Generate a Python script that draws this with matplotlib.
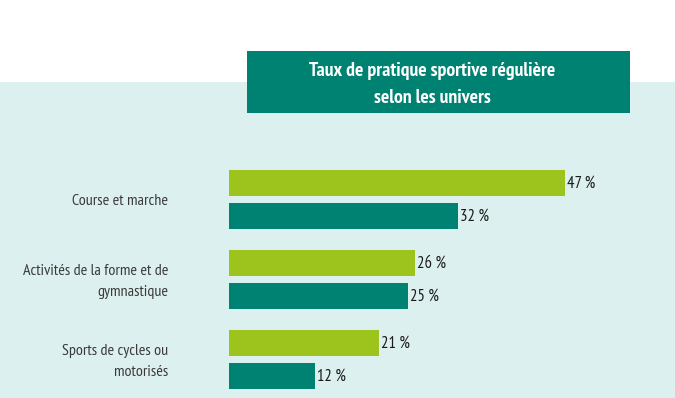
import matplotlib
matplotlib.use("Agg")
import matplotlib.pyplot as plt
from matplotlib import font_manager
from matplotlib.patches import Rectangle

categories = ["Course et marche", "Activités de la forme et de\ngymnastique", "Sports de cycles ou\nmotorisés"]
series_a = [47, 26, 21]   # green
series_b = [32, 25, 12]   # teal
value_fmt = "{} %"
title = "Taux de pratique sportive régulière\nselon les univers"

names = sorted({f.name for f in font_manager.fontManager.ttflist})
prefs = ["PT Sans Narrow", "Liberation Sans Narrow", "Roboto Condensed", "Open Sans Condensed",
         "Noto Sans Condensed", "DejaVu Sans Condensed", "Noto Sans Display Condensed"]
family = next((p for p in prefs if p in names), None)
if family is None:
    cands = [n for n in names if "Condensed" in n or "Narrow" in n]
    family = cands[0] if cands else "DejaVu Sans"
plt.rcParams["font.family"] = [family, "DejaVu Sans"]

GREEN = "#9dc41c"
TEAL = "#008272"
BG = "#dcf1ef"

W, H = 675, 398
fig = plt.figure(figsize=(W / 100, H / 100), dpi=100)
fig.patch.set_facecolor("white")

# light background band
fig.patches.append(Rectangle((0, 0), 1, (H - 82) / H, transform=fig.transFigure,
                             facecolor=BG, edgecolor="none", zorder=-2))
# title box
fig.patches.append(Rectangle((247 / W, (H - 113) / H), (630 - 247) / W, (113 - 51) / H,
                             transform=fig.transFigure, facecolor=TEAL, edgecolor="none", zorder=-1))
fig.text(432 / W, (H - 84.5) / H, title, ha="center", va="center", color="white",
         fontsize=14.2, fontweight="bold", linespacing=1.65, zorder=2)

px_per_unit = 7.15
ax = fig.add_axes([229 / W, 0, (W - 229) / W, (H - 82) / H])
ax.set_zorder(3)
ax.set_facecolor("none")
ax.set_xlim(0, (W - 229) / px_per_unit)
top = -(199.5 - 82) / 80
ax.set_ylim(top + (H - 82) / 80, top)
ax.axis("off")

y = list(range(len(categories)))
off = 0.208
h = 0.33
ax.barh([v - off for v in y], series_a, height=h, color=GREEN, edgecolor="none")
ax.barh([v + off for v in y], series_b, height=h, color=TEAL, edgecolor="none")

for i, (a, b) in enumerate(zip(series_a, series_b)):
    ax.text(a + 0.3, i - off + 0.01, value_fmt.format(a), va="center", ha="left", fontsize=12, color="#1a1a1a")
    ax.text(b + 0.3, i + off + 0.01, value_fmt.format(b), va="center", ha="left", fontsize=12, color="#1a1a1a")
    ax.text(-(229 - 168) / px_per_unit, i + 0.02, categories[i], va="center", ha="right", fontsize=11.5,
            color="#3a3a3a", linespacing=1.65, clip_on=False)

fig.savefig("out.png", dpi=100, facecolor=fig.get_facecolor())
